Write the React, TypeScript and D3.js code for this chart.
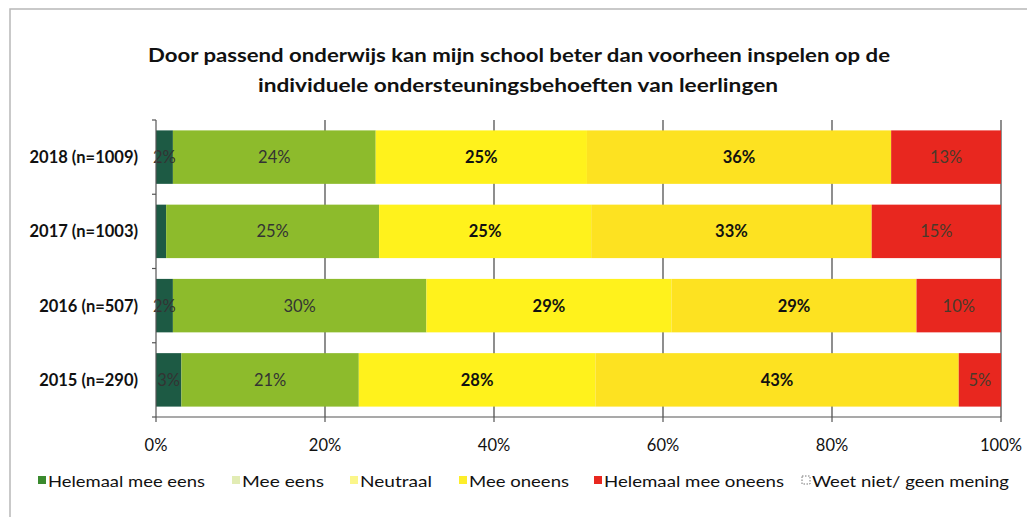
import React from "react";
import * as d3 from "d3";

const titleLines = [
  "Door passend onderwijs kan mijn school beter dan voorheen inspelen op de",
  "individuele ondersteuningsbehoeften van leerlingen",
];
const categories = ["2018 (n=1009)", "2017 (n=1003)", "2016 (n=507)", "2015 (n=290)"];
const seriesNames = [
  "Helemaal mee eens",
  "Mee eens",
  "Neutraal",
  "Mee oneens",
  "Helemaal mee oneens",
  "Weet niet/ geen mening",
];
const helemaalMeeEens = [2, 1.2, 2, 3];
const meeEens = [24, 25.2, 30, 21];
const neutraal = [25, 25.1, 29, 28];
const meeOneens = [36, 33.2, 29, 43];
const helemaalMeeOneens = [13, 15.3, 10, 5];
const weetNiet = [0, 0, 0, 0];
const xTicks = [0, 20, 40, 60, 80, 100];

const colors = ["#1d5a44", "#8dbb2c", "#fff21c", "#fde221", "#e8271f", "#ffffff"];
const legendColors = ["#3a8a2e", "#e2ecb4", "#fbf68a", "#fdee2a", "#e8271f", "#ffffff"];
const labelColors = ["#333", "#333", "#111", "#111", "#4a3a2a", "#333"];
const labelWeights = ["normal", "normal", "bold", "bold", "normal", "normal"];

const FONT = "Lato, 'Open Sans', sans-serif";

export default function App() {
  const W = 1027;
  const H = 517;
  const x = d3.scaleLinear().domain([0, 100]).range([156, 1001]);
  const y = d3.scaleBand<string>().domain(categories).range([120, 417]).paddingInner(0.28).paddingOuter(0.14);

  const rows = categories.map((c, i) => ({
    cat: c,
    [seriesNames[0]]: helemaalMeeEens[i],
    [seriesNames[1]]: meeEens[i],
    [seriesNames[2]]: neutraal[i],
    [seriesNames[3]]: meeOneens[i],
    [seriesNames[4]]: helemaalMeeOneens[i],
    [seriesNames[5]]: weetNiet[i],
  }));
  const stack = d3.stack<any>().keys(seriesNames);
  const layers = stack(rows);

  const bw = y.bandwidth();
  const legendX = [38, 232, 350, 459, 594, 802];
  const legendW = [157, 82, 72, 100, 180, 197];

  return (
    <div style={{ position: "absolute", left: 0, top: 0 }}>
      <svg width={W} height={H} style={{ display: "block", background: "#fff" }}>
        <rect x={10} y={9} width={W + 20} height={H + 20} fill="none" stroke="#b8b8b8" strokeWidth={1.5} />
        {/* title */}
        <text x={519} y={62} textAnchor="middle" fontFamily={FONT} fontWeight="bold" fontSize={19} fill="#111"
          textLength={742} lengthAdjust="spacingAndGlyphs">{titleLines[0]}</text>
        <text x={518} y={92} textAnchor="middle" fontFamily={FONT} fontWeight="bold" fontSize={19} fill="#111"
          textLength={520} lengthAdjust="spacingAndGlyphs">{titleLines[1]}</text>

        {/* gridlines */}
        {xTicks.filter((t) => t > 0).map((t) => (
          <line key={t} x1={x(t)} x2={x(t)} y1={120} y2={417} stroke="#444" strokeWidth={1.2} />
        ))}

        {/* bars */}
        {layers.map((layer, si) =>
          layer.map((d, ci) => {
            const w = x(d[1]) - x(d[0]);
            if (w <= 0) return null;
            return (
              <rect key={si + "-" + ci} x={x(d[0])} y={y(categories[ci])!} width={w} height={bw} fill={colors[si]} />
            );
          })
        )}

        {/* data labels */}
        {layers.map((layer, si) =>
          layer.map((d, ci) => {
            const v = d[1] - d[0];
            const r = Math.round(v);
            if (r < 2 || si === 5) return null;
            return (
              <text key={"l" + si + "-" + ci} x={(x(d[0]) + x(d[1])) / 2} y={y(categories[ci])! + bw / 2 + 6}
                textAnchor="middle" fontFamily={FONT} fontSize={16.5} fontWeight={labelWeights[si]} fill={labelColors[si]}>
                {r + "%"}
              </text>
            );
          })
        )}

        {/* y axis */}
        <line x1={x(0)} x2={x(0)} y1={120} y2={417} stroke="#555" strokeWidth={1.2} />
        {[0, 1, 2, 3, 4].map((i) => {
          const yy = 120 + i * y.step();
          return <line key={i} x1={x(0) - 4} x2={x(0)} y1={yy} y2={yy} stroke="#555" strokeWidth={1.2} />;
        })}
        {categories.map((c) => (
          <text key={c} x={138} y={y(c)! + bw / 2 + 6} textAnchor="end" fontFamily={FONT} fontWeight="bold"
            fontSize={16.5} fill="#111">{c}</text>
        ))}

        {/* x axis */}
        <line x1={x(0)} x2={x(100)} y1={417} y2={417} stroke="#555" strokeWidth={1.2} />
        {xTicks.map((t) => (
          <g key={t}>
            <line x1={x(t)} x2={x(t)} y1={417} y2={422} stroke="#555" strokeWidth={1.2} />
            <text x={x(t)} y={451} textAnchor="middle" fontFamily={FONT} fontSize={16.5} fill="#111">{t + "%"}</text>
          </g>
        ))}

        {/* legend */}
        {seriesNames.map((s, i) => (
          <g key={s}>
            {i === 5 ? (
              <rect x={legendX[i]} y={476} width={8} height={8} fill="#fff" stroke="#777" strokeDasharray="1.5,1.5" />
            ) : (
              <rect x={legendX[i]} y={476} width={8} height={8} fill={legendColors[i]} />
            )}
            <text x={legendX[i] + 10} y={487} fontFamily={FONT} fontSize={16} fill="#111"
              textLength={legendW[i]} lengthAdjust="spacingAndGlyphs">{s}</text>
          </g>
        ))}
      </svg>
    </div>
  );
}
